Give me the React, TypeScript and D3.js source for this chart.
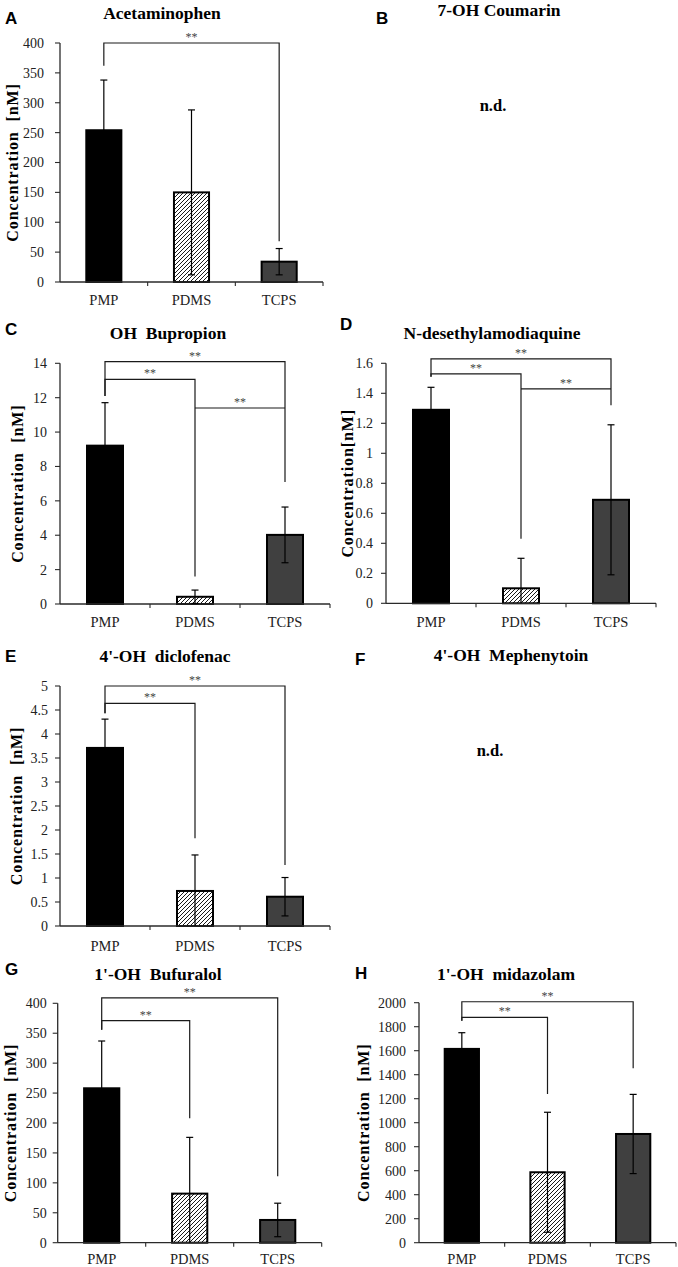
import React from 'react';
import * as d3 from 'd3';

const categories = ['PMP', 'PDMS', 'TCPS'];

// Values (means, ± error)
const acetaminophenMean = [254, 150, 34];
const acetaminophenErr = [84, 138, 22];
const acetaminophenTicks = [0, 50, 100, 150, 200, 250, 300, 350, 400];
const acetaminophenSig = [[0, 2, 400, 362, 68]];

const bupropionMean = [9.21, 0.42, 4.02];
const bupropionErr = [2.5, 0.39, 1.62];
const bupropionTicks = [0, 2, 4, 6, 8, 10, 12, 14];
const bupropionSig = [
  [0, 2, 14.1, 12.1, 7.1],
  [0, 1, 13.06, 12.1, 1.6],
  [1, 2, 11.4, 11.4, 11.4],
];

const amodiaquineMean = [1.29, 0.1, 0.69];
const amodiaquineErr = [0.15, 0.2, 0.5];
const amodiaquineTicks = [0, 0.2, 0.4, 0.6, 0.8, 1, 1.2, 1.4, 1.6];
const amodiaquineSig = [
  [0, 2, 1.63, 1.51, 1.32],
  [0, 1, 1.53, 1.51, 0.43],
  [1, 2, 1.43, 1.43, 1.43],
];

const diclofenacMean = [3.71, 0.73, 0.61];
const diclofenacErr = [0.6, 0.75, 0.4];
const diclofenacTicks = [0, 0.5, 1, 1.5, 2, 2.5, 3, 3.5, 4, 4.5, 5];
const diclofenacSig = [
  [0, 2, 5.0, 4.43, 1.27],
  [0, 1, 4.64, 4.43, 1.83],
];

const bufuralolMean = [258, 82, 38];
const bufuralolErr = [79, 94, 28];
const bufuralolTicks = [0, 50, 100, 150, 200, 250, 300, 350, 400];
const bufuralolSig = [
  [0, 2, 409, 356, 111],
  [0, 1, 371, 356, 208],
];

const midazolamMean = [1615, 587, 906];
const midazolamErr = [135, 500, 330];
const midazolamTicks = [0, 200, 400, 600, 800, 1000, 1200, 1400, 1600, 1800, 2000];
const midazolamSig = [
  [0, 2, 2008, 1850, 1453],
  [0, 1, 1878, 1850, 1239],
];

const serif = '"Liberation Serif", "Times New Roman", serif';
const sans = '"Liberation Sans", Arial, sans-serif';

const barPanels = [
  {
    id: 'A', title: 'Acetaminophen', yTitle: 'Concentration  [nM]',
    mean: acetaminophenMean, err: acetaminophenErr, ticks: acetaminophenTicks, sig: acetaminophenSig,
    letterX: 5, letterY: 24, titleX: 162, titleY: 19,
    x0: 60, x1: 323, yTop: 43, yBot: 282, yTitleX: 12, tickGap: 16, xLabelY: 305,
  },
  {
    id: 'C', title: 'OH  Bupropion', yTitle: 'Concentration  [nM]',
    mean: bupropionMean, err: bupropionErr, ticks: bupropionTicks, sig: bupropionSig,
    letterX: 5, letterY: 335, titleX: 168, titleY: 339,
    x0: 60, x1: 330, yTop: 363.3, yBot: 604, yTitleX: 17, tickGap: 13, xLabelY: 627,
  },
  {
    id: 'D', title: 'N-desethylamodiaquine', yTitle: 'Concentration[nM]',
    mean: amodiaquineMean, err: amodiaquineErr, ticks: amodiaquineTicks, sig: amodiaquineSig,
    letterX: 340, letterY: 330, titleX: 492, titleY: 339,
    x0: 386, x1: 656, yTop: 363.3, yBot: 603.3, yTitleX: 347, tickGap: 13, xLabelY: 627,
  },
  {
    id: 'E', title: "4'-OH  diclofenac", yTitle: 'Concentration  [nM]',
    mean: diclofenacMean, err: diclofenacErr, ticks: diclofenacTicks, sig: diclofenacSig,
    letterX: 5, letterY: 662, titleX: 165, titleY: 662,
    x0: 60, x1: 330, yTop: 686, yBot: 926, yTitleX: 16, tickGap: 12, xLabelY: 951,
  },
  {
    id: 'G', title: "1'-OH  Bufuralol", yTitle: 'Concentration  [nM]',
    mean: bufuralolMean, err: bufuralolErr, ticks: bufuralolTicks, sig: bufuralolSig,
    letterX: 5, letterY: 975, titleX: 158, titleY: 980,
    x0: 57.7, x1: 321.7, yTop: 1003.3, yBot: 1242.7, yTitleX: 10, tickGap: 11, xLabelY: 1264,
  },
  {
    id: 'H', title: "1'-OH  midazolam", yTitle: 'Concentration  [nM]',
    mean: midazolamMean, err: midazolamErr, ticks: midazolamTicks, sig: midazolamSig,
    letterX: 355, letterY: 979, titleX: 506, titleY: 980,
    x0: 419, x1: 676, yTop: 1002.7, yBot: 1242.7, yTitleX: 363, tickGap: 13, xLabelY: 1264,
  },
];

const emptyPanels = [
  { id: 'B', title: '7-OH Coumarin', letterX: 376, letterY: 24, titleX: 499, titleY: 16, ndX: 493, ndY: 111 },
  { id: 'F', title: "4'-OH  Mephenytoin", letterX: 355, letterY: 665, titleX: 511, titleY: 661, ndX: 490, ndY: 756 },
];

const fills = ['#000000', 'url(#hatch)', '#404040'];
const axisColor = '#2a2a2a';

function fmt(v: number) {
  return String(+v.toFixed(2));
}

function BarPanel({ p }: { p: any }) {
  const max = p.ticks[p.ticks.length - 1];
  const x = d3.scaleBand().domain(categories).range([p.x0, p.x1]).padding(0);
  const y = d3.scaleLinear().domain([0, max]).range([p.yBot, p.yTop]);
  const bw = x.bandwidth();
  const barW = bw * 0.4;
  const cx = (c: string) => (x(c) as number) + bw / 2;
  const cap = 3.5;
  return (
    <g>
      <text x={p.letterX} y={p.letterY} fontFamily={sans} fontWeight="bold" fontSize={17}>{p.id}</text>
      <text x={p.titleX} y={p.titleY} fontFamily={serif} fontWeight="bold" fontSize={17.5} textAnchor="middle" style={{ whiteSpace: 'pre' }}>{p.title}</text>
      <text
        transform={`translate(${p.yTitleX},${(p.yTop + p.yBot) / 2}) rotate(-90)`}
        fontFamily={serif} fontWeight="bold" fontSize={16} letterSpacing={0.9} textAnchor="middle" dominantBaseline="central"
        style={{ whiteSpace: 'pre' }}
      >{p.yTitle}</text>
      {/* y axis */}
      <line x1={p.x0} x2={p.x0} y1={p.yBot} y2={y(max)} stroke={axisColor} strokeWidth={1.3} />
      {p.ticks.map((t: number) => (
        <g key={t}>
          <line x1={p.x0 - 5} x2={p.x0} y1={y(t)} y2={y(t)} stroke={axisColor} strokeWidth={1.1} />
          <text x={p.x0 - p.tickGap} y={y(t)} dy="0.35em" textAnchor="end" fontFamily={serif} fontSize={14} fill="#222">{fmt(t)}</text>
        </g>
      ))}
      {/* bars */}
      {categories.map((c, i) => (
        <rect key={c} x={cx(c) - barW / 2} y={y(p.mean[i])} width={barW} height={p.yBot - y(p.mean[i])}
          fill={fills[i]} stroke="#000" strokeWidth={2} />
      ))}
      {/* x axis */}
      <line x1={p.x0} x2={p.x1} y1={p.yBot} y2={p.yBot} stroke={axisColor} strokeWidth={1.3} />
      {categories.map((c) => (
        <line key={c} x1={(x(c) as number) + bw} x2={(x(c) as number) + bw} y1={p.yBot} y2={p.yBot + 4} stroke={axisColor} strokeWidth={1.1} />
      ))}
      {categories.map((c) => (
        <text key={c} x={cx(c)} y={p.xLabelY} textAnchor="middle" fontFamily={serif} fontSize={14.5} fill="#222">{c}</text>
      ))}
      {/* error bars */}
      {categories.map((c, i) => {
        const hiV = p.mean[i] + p.err[i];
        const loV = p.mean[i] - p.err[i];
        const hi = y(hiV);
        const lo = y(Math.max(0, loV));
        const xc = cx(c);
        return (
          <g key={c} stroke="#000" strokeWidth={1.2}>
            <line x1={xc} x2={xc} y1={hi} y2={lo} />
            <line x1={xc - cap} x2={xc + cap} y1={hi} y2={hi} />
            {loV > 0 && <line x1={xc - cap} x2={xc + cap} y1={lo} y2={lo} />}
          </g>
        );
      })}
      {/* significance brackets */}
      {p.sig.map((s: number[], k: number) => {
        const xa = cx(categories[s[0]]);
        const xb = cx(categories[s[1]]);
        const yl = y(s[2]);
        return (
          <g key={k}>
            <path d={`M${xa},${y(s[3])}V${yl}H${xb}V${y(s[4])}`} fill="none" stroke="#1a1a1a" strokeWidth={1.2} />
            <text x={(xa + xb) / 2} y={yl - 2} textAnchor="middle" fontFamily={serif} fontSize={12} fill="#444">**</text>
          </g>
        );
      })}
    </g>
  );
}

export default function App() {
  return (
    <div style={{ position: 'absolute', left: 0, top: 0 }}>
      <svg width={678} height={1267} viewBox="0 0 678 1267" style={{ display: 'block', background: '#fff' }}>
        <defs>
          <pattern id="hatch" patternUnits="userSpaceOnUse" width={4} height={4}>
            <rect width={4} height={4} fill="#fff" />
            <path d="M-1,1 l2,-2 M0,4 l4,-4 M3,5 l2,-2" stroke="#000" strokeWidth={0.9} />
          </pattern>
        </defs>
        {barPanels.map((p) => <BarPanel key={p.id} p={p} />)}
        {emptyPanels.map((p) => (
          <g key={p.id}>
            <text x={p.letterX} y={p.letterY} fontFamily={sans} fontWeight="bold" fontSize={17}>{p.id}</text>
            <text x={p.titleX} y={p.titleY} fontFamily={serif} fontWeight="bold" fontSize={17.5} textAnchor="middle" style={{ whiteSpace: 'pre' }}>{p.title}</text>
            <text x={p.ndX} y={p.ndY} fontFamily={serif} fontWeight="bold" fontSize={16.5} textAnchor="middle">n.d.</text>
          </g>
        ))}
      </svg>
    </div>
  );
}
